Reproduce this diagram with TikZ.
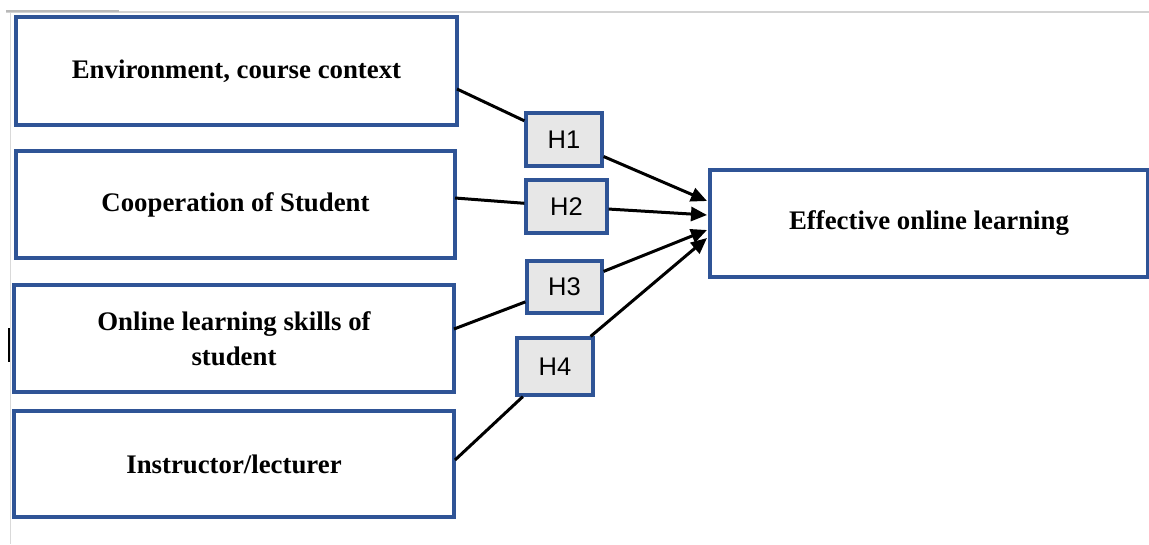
\documentclass[tikz,border=0pt]{standalone}
\usepackage{fontspec}
\setmainfont{Liberation Serif}
\newfontfamily\hfont{Liberation Sans}
\usetikzlibrary{arrows.meta}
\definecolor{boxblue}{HTML}{2F5496}
\definecolor{hgray}{HTML}{E7E7E7}
\tikzset{
  bigbox/.style={draw=boxblue, line width=3.2pt, fill=white, rectangle, align=center, inner sep=0pt,
    font=\fontsize{26.8}{35}\selectfont\bfseries},
  hbox/.style={draw=boxblue, line width=3.2pt, fill=hgray, rectangle, inner sep=0pt,
    font=\fontsize{25.5}{30}\selectfont\hfont},
  conn/.style={draw=black, line width=3pt},
  arr/.style={conn, -{Triangle[length=16pt,width=14pt]}},
}
\begin{document}
\begin{tikzpicture}[x=1pt,y=-1pt]
\useasboundingbox (0,0) rectangle (1149,544);
\fill[white] (0,0) rectangle (1149,544);
% page frame remnants
\draw[gray!30, line width=1.6pt] (10.5,11) -- (10.5,544);
\draw[gray!35, line width=1.6pt] (6,12) -- (1149,12);
\draw[gray!55, line width=1.4pt] (6,11) -- (119,11);
\draw[black, line width=1.8pt] (9,328) -- (9,362);

% main boxes
\node[bigbox, minimum width=441pt, minimum height=108pt] (env) at (236.5,71) {Environment, course context};
\node[bigbox, minimum width=439pt, minimum height=107pt] (coop) at (235.5,204.5) {Cooperation of Student};
\node[bigbox, minimum width=440pt, minimum height=107pt] (skills) at (234,338.5) {Online learning skills of\\student};
\node[bigbox, minimum width=440pt, minimum height=106pt] (instr) at (234,464) {Instructor/lecturer};
\node[bigbox, minimum width=438pt, minimum height=107pt] (eff) at (929,223.5) {Effective online learning};

% anchor points
\coordinate (s1) at (457,89);
\coordinate (s2) at (455,198);
\coordinate (s3) at (454,329);
\coordinate (s4) at (455,460);
\coordinate (t1) at (707,201);
\coordinate (t2) at (707,215);
\coordinate (t3) at (707,230);
\coordinate (t4) at (707,238);

% hypothesis boxes
\node[hbox, minimum width=76pt, minimum height=53pt] (H1) at (564,139.5) {H1};
\node[hbox, minimum width=81pt, minimum height=53pt] (H2) at (566.5,206.5) {H2};
\node[hbox, minimum width=75pt, minimum height=52pt] (H3) at (564.5,287) {H3};
\node[hbox, minimum width=76pt, minimum height=57pt] (H4) at (555,366.5) {H4};

% connectors
\draw[conn] (s1) -- (H1);
\draw[arr] (H1) -- (t1);
\draw[conn] (s2) -- (H2);
\draw[arr] (H2) -- (t2);
\draw[conn] (s3) -- (H3);
\draw[arr] (H3) -- (t3);
\draw[conn] (s4) -- (H4);
\draw[arr] (H4) -- (t4);
\end{tikzpicture}
\end{document}
